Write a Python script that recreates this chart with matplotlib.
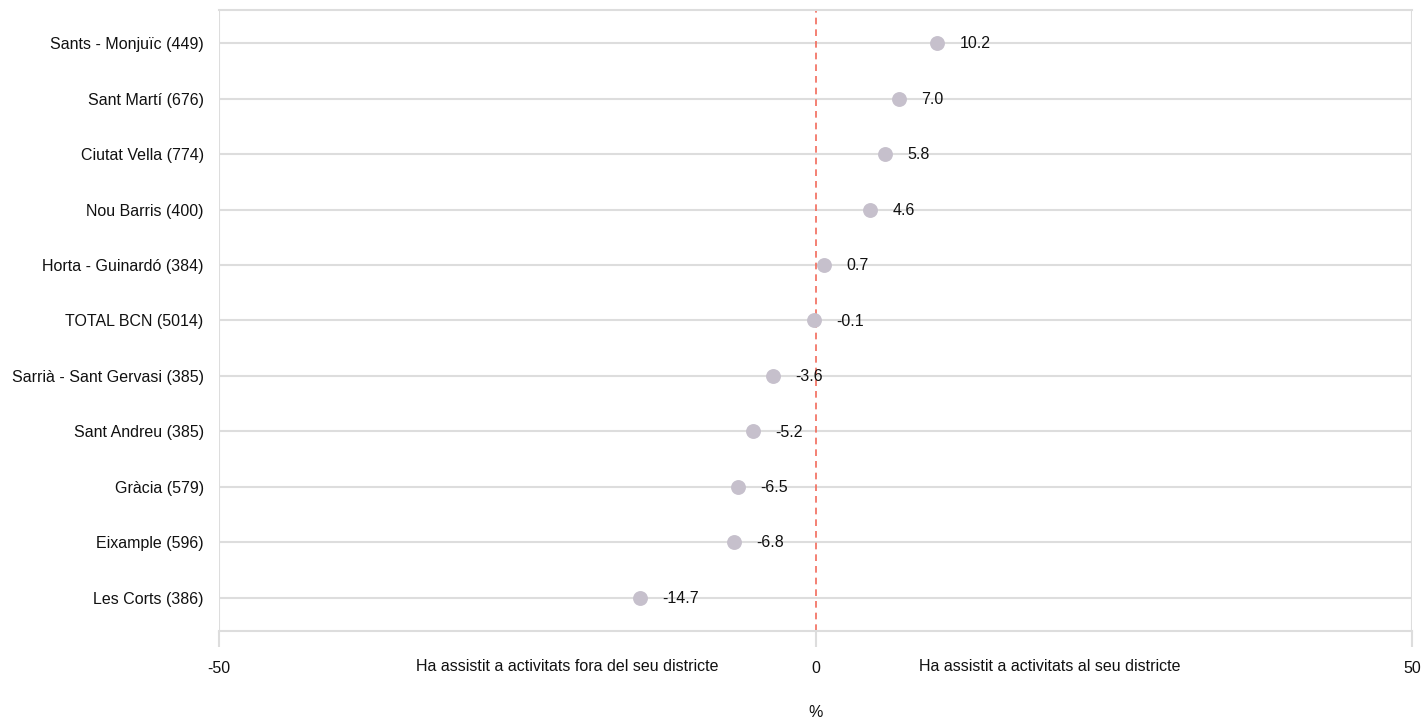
import matplotlib.pyplot as plt

plt.rcParams['font.family'] = ['Liberation Sans', 'DejaVu Sans']

# dades
districtes = ["Sants - Monjuïc (449)", "Sant Martí (676)", "Ciutat Vella (774)",
              "Nou Barris (400)", "Horta - Guinardó (384)", "TOTAL BCN (5014)",
              "Sarrià - Sant Gervasi (385)", "Sant Andreu (385)", "Gràcia (579)",
              "Eixample (596)", "Les Corts (386)"]
valors = [10.2, 7.0, 5.8, 4.6, 0.7, -0.1, -3.6, -5.2, -6.5, -6.8, -14.7]
xticks = [-50, 0, 50]

grid_col = '#dddddd'
punt_col = '#c6c0cc'
zero_col = '#f26b5b'
fs = 11.5

fig = plt.figure(figsize=(14.26, 7.18), dpi=100)
ax = fig.add_axes([219 / 1426, 1 - 631 / 718, (1412 - 219) / 1426, (631 - 10) / 718])

y = list(range(len(districtes)))

# línies horitzontals per categoria
for yi in y:
    ax.axhline(yi, color=grid_col, lw=1.5, zorder=1)

# línia del zero
ax.axvline(0, color=zero_col, lw=1.2, ls=(0, (4, 3)), zorder=2)
ax.axvline(-50, color=grid_col, lw=1.5, zorder=1)
ax.axvline(50, color=grid_col, lw=1.5, zorder=1)

ax.scatter(valors, y, s=115, color=punt_col, zorder=3, linewidths=0)
for v, yi in zip(valors, y):
    ax.annotate(f"{v:.1f}", xy=(v, yi), xytext=(16, -0.5), textcoords='offset points',
                ha='left', va='center', fontsize=fs, color='#111111', zorder=4)

ax.set_xlim(-50, 50)
ax.set_ylim(len(districtes) - 1 + 0.6, -0.6)
ax.set_yticks(y)
ax.set_yticklabels(districtes, fontsize=fs, color='#111111')
ax.tick_params(axis='y', length=0, pad=11)
ax.set_xticks(xticks)
ax.set_xticklabels([str(t) for t in xticks], fontsize=fs, color='#111111')
ax.tick_params(axis='x', length=11.5, width=1.5, color=grid_col, pad=10)

for s in ['top', 'bottom']:
    ax.spines[s].set_color(grid_col)
    ax.spines[s].set_linewidth(1.5)
for s in ['left', 'right']:
    ax.spines[s].set_visible(False)

ax.annotate("Ha assistit a activitats fora del seu districte", xy=(-20.8, 0),
            xycoords=('data', 'axes fraction'), xytext=(0, -25.5), textcoords='offset points',
            ha='center', va='center', fontsize=fs, color='#111111')
ax.annotate("Ha assistit a activitats al seu districte", xy=(19.6, 0),
            xycoords=('data', 'axes fraction'), xytext=(0, -25.5), textcoords='offset points',
            ha='center', va='center', fontsize=fs, color='#111111')

ax.set_xlabel("%", fontsize=fs, color='#111111', labelpad=21)

fig.savefig("out.png", dpi=100)
